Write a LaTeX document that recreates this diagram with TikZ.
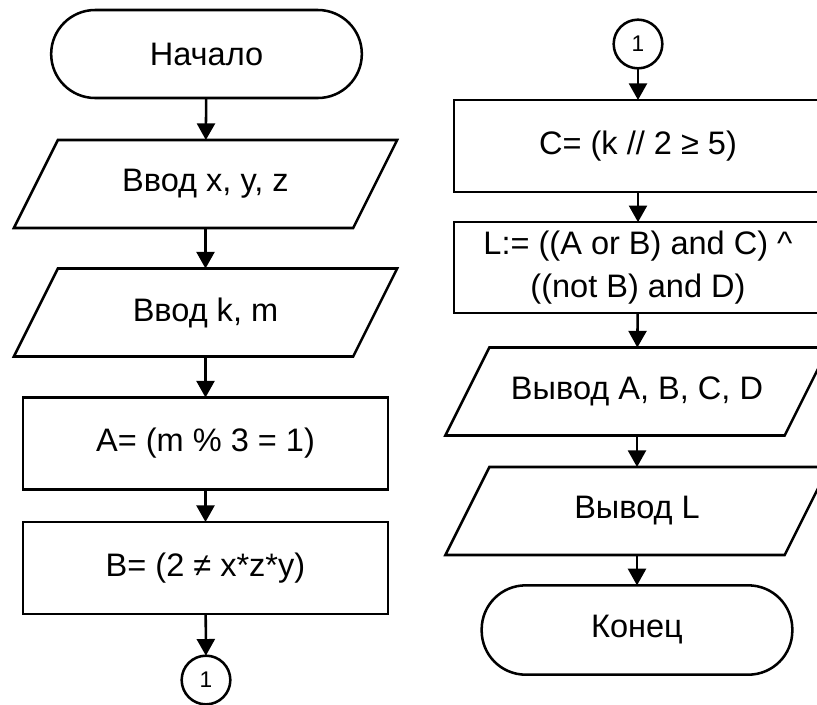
\documentclass[tikz,border=0pt]{standalone}
\usepackage{fontspec}
\setmainfont{Liberation Sans}
\usetikzlibrary{arrows.meta}
\tikzset{
  ln/.style={line width=1.9pt, line join=miter},
  base/.style={font=\fontsize{24.4pt}{30pt}\selectfont, outer sep=0pt, inner sep=0pt, align=center},
  term/.style={base, ln, draw, rectangle, rounded corners=33pt, minimum width=233pt, minimum height=66pt},
  proc/.style={base, ln, draw, rectangle, minimum width=274pt, minimum height=69pt},
  para/.style={base, rectangle, minimum width=254.5pt, minimum height=66pt},
  conn/.style={ln, draw, circle, minimum size=36.5pt, inner sep=0pt, outer sep=0pt, font=\fontsize{17pt}{19pt}\selectfont},
  arr/.style={ln, -{Triangle[width=13.5pt,length=12.5pt]}},
}
\newcommand\drawpara[1]{\draw[ln] ([xshift=16.5pt]#1.north west) -- ([xshift=16.5pt]#1.north east) -- ([xshift=-16.5pt]#1.south east) -- ([xshift=-16.5pt]#1.south west) -- cycle;}
\begin{document}
\begin{tikzpicture}[x=0.75pt,y=-0.75pt]
\useasboundingbox (0,0) rectangle (817,704);
\clip (0,0) rectangle (817,704);
% left column
\node[term] (start) at (206.5,54) {Начало};
\node[para] (p1) at (205.5,184) {Ввод x, y, z};
\drawpara{p1}
\node[para] (p2) at (205.5,312.5) {Ввод k, m};
\drawpara{p2}
\node[proc] (a) at (205.5,443.5) {A= (m \% 3 = 1)};
\node[proc] (b) at (205.5,568) {B= (2 ≠ x*z*y)};
\node[conn] (c1) at (206,680) {1};
% right column
\node[conn] (c2) at (638,44) {1};
\node[proc, minimum width=276pt] (c) at (638,146) {C= (k // 2 ≥ 5)};
\node[proc, minimum width=276pt, minimum height=68pt] (l) at (638,267.5) {L:= ((A or B) and C) \^{}\\[2.5pt]((not B) and D)};
\node[para] (p3) at (637,391.5) {Вывод A, B, C, D};
\drawpara{p3}
\node[para] (p4) at (637,511) {Вывод L};
\drawpara{p4}
\node[term, minimum height=67pt] (end) at (637,630) {Конец};
% connectors
\draw[arr] (start) -- (p1);
\draw[arr] (p1) -- (p2);
\draw[arr] (p2) -- (a);
\draw[arr] (a) -- (b);
\draw[arr] (b) -- (c1);
\draw[arr] (c2) -- (c);
\draw[arr] (c) -- (l);
\draw[arr] (l) -- (p3);
\draw[arr] (p3) -- (p4);
\draw[arr] (p4) -- (end);
\end{tikzpicture}
\end{document}
